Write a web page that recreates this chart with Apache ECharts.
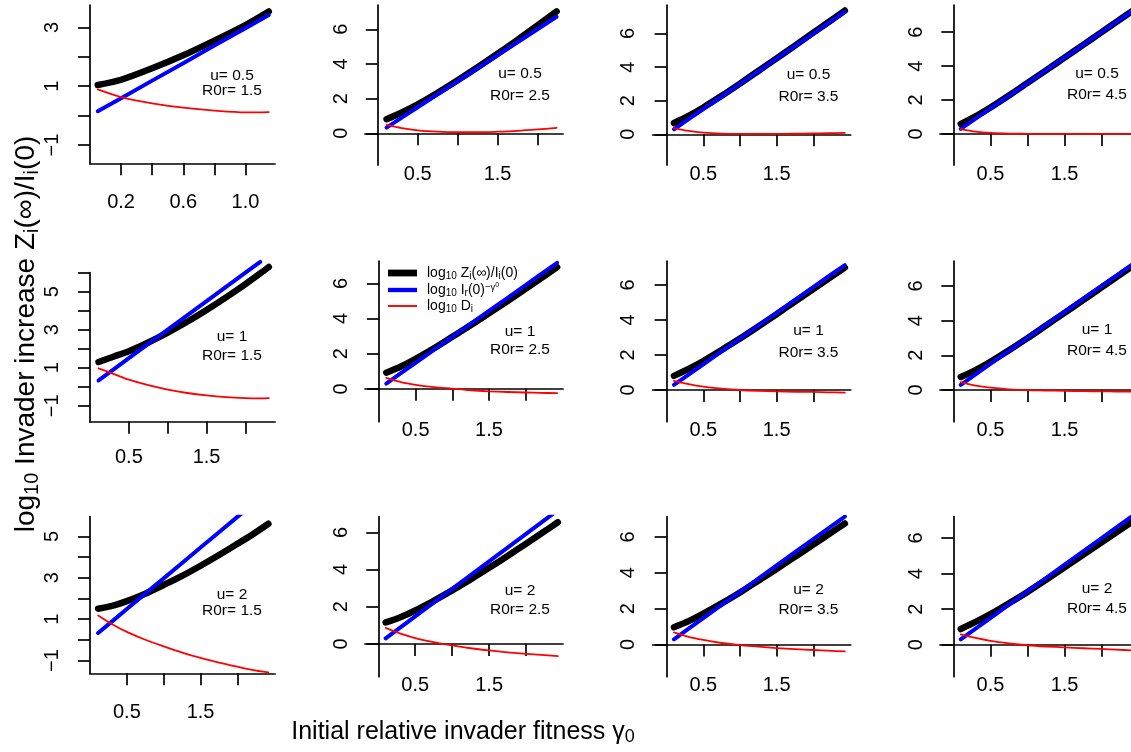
<!DOCTYPE html>
<html>
<head>
<meta charset="utf-8">
<script src="https://cdn.jsdelivr.net/npm/echarts@6/dist/echarts.min.js"></script>
<style>
  html, body { margin: 0; padding: 0; background: #fff; }
  #chart { width: 1131px; height: 752px; }
</style>
</head>
<body>
<div id="chart"></div>
<script>
// panel parameters: rows are u, columns are R0r
const uValues = [0.5, 1, 2];
const R0rValues = [1.5, 2.5, 3.5, 4.5];

// invader fitness gamma0 sampled along each curve (panels row by row)
const gammaStd = [0.1, 0.3, 0.5, 0.75, 1.0, 1.25, 1.5, 1.75, 2.0, 2.2, 2.43];
const gamma = [
  [0.05, 0.2, 0.4, 0.6, 0.8, 1.0, 1.15],
  [0.11, 0.3, 0.5, 0.75, 1.0, 1.25, 1.5, 1.75, 2.0, 2.24],
  gammaStd, gammaStd,
  [0.11, 0.3, 0.5, 0.75, 1.0, 1.25, 1.5, 1.75, 2.0, 2.19, 2.3],
  gammaStd, gammaStd, gammaStd,
  [0.11, 0.3, 0.5, 0.75, 1.0, 1.25, 1.5, 1.75, 2.0, 2.2, 2.42],
  gammaStd, gammaStd, gammaStd
];

// log10 Zi(inf)/Ii(0)  (black)
const logZ = [
  [1.04, 1.22, 1.61, 2.05, 2.55, 3.08, 3.54],
  [0.81, 1.2, 1.67, 2.34, 3.06, 3.81, 4.59, 5.39, 6.22, 7.03],
  [0.67, 1.1, 1.6, 2.29, 3.02, 3.77, 4.52, 5.28, 6.05, 6.66, 7.37],
  [0.59, 1.04, 1.56, 2.27, 3.01, 3.75, 4.5, 5.25, 6.0, 6.61, 7.3],
  [1.3, 1.58, 1.87, 2.33, 2.85, 3.42, 4.04, 4.7, 5.4, 5.96, 6.3],
  [0.92, 1.27, 1.71, 2.31, 2.96, 3.61, 4.29, 4.98, 5.69, 6.26, 6.92],
  [0.81, 1.21, 1.66, 2.29, 2.94, 3.63, 4.33, 5.05, 5.77, 6.34, 6.99],
  [0.75, 1.15, 1.63, 2.29, 2.99, 3.72, 4.45, 5.18, 5.92, 6.51, 7.19],
  [1.5, 1.64, 1.87, 2.23, 2.65, 3.09, 3.58, 4.1, 4.64, 5.08, 5.61],
  [1.16, 1.44, 1.8, 2.32, 2.88, 3.47, 4.09, 4.73, 5.39, 5.92, 6.54],
  [0.96, 1.3, 1.72, 2.29, 2.9, 3.56, 4.21, 4.89, 5.57, 6.12, 6.75],
  [0.88, 1.28, 1.72, 2.33, 2.97, 3.65, 4.35, 5.05, 5.76, 6.32, 6.97]
];

// log10 Ir(0)^-gamma0  (blue)
const logIr = [
  [0.15, 0.59, 1.19, 1.78, 2.38, 2.97, 3.42],
  [0.33, 0.9, 1.5, 2.25, 3.0, 3.75, 4.5, 5.25, 6.0, 6.72],
  [0.3, 0.9, 1.5, 2.25, 3.0, 3.75, 4.5, 5.25, 6.0, 6.6, 7.29],
  [0.3, 0.9, 1.5, 2.25, 3.0, 3.75, 4.5, 5.25, 6.0, 6.6, 7.29],
  [0.33, 0.9, 1.5, 2.25, 3.0, 3.75, 4.5, 5.25, 6.0, 6.57, null],
  [0.3, 0.89, 1.48, 2.21, 2.95, 3.69, 4.43, 5.16, 5.9, 6.49, 7.17],
  [0.29, 0.88, 1.47, 2.21, 2.94, 3.68, 4.41, 5.15, 5.88, 6.47, 7.14],
  [0.3, 0.9, 1.5, 2.25, 3.0, 3.75, 4.5, 5.25, 6.0, 6.6, 7.29],
  [0.33, 0.89, 1.49, 2.23, 2.97, 3.71, 4.46, 5.2, 5.94, 6.53, 7.19],
  [0.3, 0.89, 1.48, 2.22, 2.96, 3.7, 4.44, 5.18, 5.92, 6.51, 7.19],
  [0.29, 0.88, 1.47, 2.21, 2.94, 3.68, 4.41, 5.15, 5.88, 6.47, 7.14],
  [0.3, 0.9, 1.5, 2.25, 3.0, 3.75, 4.5, 5.25, 6.0, 6.6, 7.29]
];

// log10 Di  (red)
const logD = [
  [0.89, 0.63, 0.42, 0.27, 0.17, 0.11, 0.12],
  [0.48, 0.3, 0.17, 0.09, 0.06, 0.06, 0.09, 0.14, 0.22, 0.31],
  [0.37, 0.2, 0.1, 0.04, 0.02, 0.02, 0.02, 0.03, 0.05, 0.06, 0.08],
  [0.29, 0.14, 0.06, 0.02, 0.01, 0.0, 0.0, 0.0, 0.0, 0.01, 0.01],
  [0.97, 0.68, 0.37, 0.08, -0.15, -0.33, -0.46, -0.55, -0.6, -0.61, -0.6],
  [0.62, 0.38, 0.23, 0.1, 0.01, -0.08, -0.14, -0.18, -0.21, -0.23, -0.25],
  [0.52, 0.33, 0.19, 0.08, 0.0, -0.05, -0.08, -0.1, -0.11, -0.13, -0.15],
  [0.45, 0.25, 0.13, 0.04, -0.01, -0.03, -0.05, -0.07, -0.08, -0.09, -0.1],
  [1.17, 0.75, 0.38, 0.0, -0.32, -0.62, -0.88, -1.1, -1.3, -1.45, -1.58],
  [0.86, 0.55, 0.32, 0.1, -0.08, -0.23, -0.35, -0.45, -0.53, -0.59, -0.65],
  [0.67, 0.42, 0.25, 0.08, -0.04, -0.12, -0.2, -0.26, -0.31, -0.35, -0.39],
  [0.58, 0.38, 0.22, 0.08, -0.03, -0.1, -0.15, -0.2, -0.24, -0.28, -0.32]
];

// tick marks / labels
const xTicksNarrow = [0.2, 0.4, 0.6, 0.8, 1.0];
const xLabelsNarrow = [0.2, 0.6, 1.0];
const xTicksWide = [0.5, 1.0, 1.5, 2.0];
const xLabelsWide = [0.5, 1.5];
const yTicks = [
  [-1, 0, 1, 2, 3], [0, 2, 4, 6], [0, 2, 4, 6], [0, 2, 4, 6],
  [-1, 0, 1, 2, 3, 4, 5, 6], [0, 2, 4, 6], [0, 2, 4, 6], [0, 2, 4, 6],
  [-1, 0, 1, 2, 3, 4, 5], [0, 2, 4, 6], [0, 2, 4, 6], [0, 2, 4, 6]
];
const yLabels = [
  [-1, 1, 3], [0, 2, 4, 6], [0, 2, 4, 6], [0, 2, 4, 6],
  [-1, 1, 3, 5], [0, 2, 4, 6], [0, 2, 4, 6], [0, 2, 4, 6],
  [-1, 1, 3, 5], [0, 2, 4, 6], [0, 2, 4, 6], [0, 2, 4, 6]
];

// ---- layout (pixels / axis extents) ----
const FONT = '"Liberation Sans", Arial, Helvetica, sans-serif';
const colLeft = [90, 365, 652.7, 940];
const colWidth = [185, 198, 198, 198];
const panelTop = [5, 5, 5, 5, 272.7, 261, 261, 261, 516.7, 516.7, 516.7, 516.7];
const panelHeight = [158.3, 160, 160, 160, 149, 160.7, 160.7, 160.7, 156.6, 160, 160, 160];
const xRange = [
  [0, 1.19], [-0.16, 2.32], [-0.19, 2.51], [-0.18, 2.49],
  [0, 2.38], [-0.19, 2.51], [-0.19, 2.51], [-0.18, 2.49],
  [0, 2.51], [-0.18, 2.5], [-0.19, 2.51], [-0.18, 2.49]
];
const yRange = [
  [-1.62, 3.76], [-1.83, 7.4], [-1.83, 7.7], [-1.83, 7.6],
  [-1.84, 6], [-1.87, 7.27], [-1.81, 7.37], [-1.83, 7.44],
  [-1.62, 5.95], [-1.76, 6.84], [-1.8, 7.13], [-1.8, 7.2]
];
const xLabelMargin = [29, -1, -1, -1, 26, -1, -1, -1, 29, -1, -1, -1];
const annotX = [232, 520, 808.5, 1097];
const annotY = [[76, 91], [74, 96], [75, 96.5], [73.5, 94.5],
                [337, 355.5], [331.5, 350], [331, 353], [330, 350.5],
                [595, 611], [590.5, 610], [589.5, 609.5], [588.5, 608.5]];

const NAME_Z = 'log10 Zi(inf)/Ii(0)';
const NAME_I = 'log10 Ir(0)^-gamma0';
const NAME_D = 'log10 Di';
const legendRich = {};
legendRich[NAME_Z] = '{g|}{n|log}{s|10}{n| Z}{s|i}{n|(\u221e)/I}{s|i}{n|(0)}';
legendRich[NAME_I] = '{g|}{n|log}{s|10}{n| I}{s|r}{n|(0)}{sp|\u2212\u03b3}{spp|0}';
legendRich[NAME_D] = '{g|}{n|log}{s|10}{n| D}{s|i}';

const minusFmt = v => (v < 0 ? '\u2212' + Math.abs(v) : String(v));

const grids = [], xAxes = [], yAxes = [], series = [], graphics = [];

for (let p = 0; p < 12; p++) {
  const row = Math.floor(p / 4), col = p % 4;
  const firstCol = col === 0;
  grids.push({
    left: colLeft[col], width: colWidth[col],
    top: panelTop[p], height: panelHeight[p],
    containLabel: false, outerBoundsMode: 'none'
  });
  xAxes.push({
    type: 'value', gridIndex: p,
    min: xRange[p][0], max: xRange[p][1],
    axisLine: { show: true, onZero: !firstCol, lineStyle: { color: '#000', width: 1.7 } },
    axisTick: { show: true, length: 12, inside: false,
      customValues: p === 0 ? xTicksNarrow : xTicksWide,
      lineStyle: { color: '#000', width: 1.7 } },
    axisLabel: { show: true, customValues: p === 0 ? xLabelsNarrow : xLabelsWide,
      formatter: v => v.toFixed(1), margin: xLabelMargin[p],
      fontSize: 20, fontFamily: FONT, color: '#000' },
    splitLine: { show: false }
  });
  yAxes.push({
    type: 'value', gridIndex: p,
    min: yRange[p][0], max: yRange[p][1],
    axisLine: { show: true, onZero: true, lineStyle: { color: '#000', width: 1.7 } },
    axisTick: { show: true, length: 12, inside: false, customValues: yTicks[p],
      lineStyle: { color: '#000', width: 1.7 } },
    axisLabel: { show: true, customValues: yLabels[p], formatter: minusFmt,
      rotate: 90, margin: firstCol ? 28 : 14, fontSize: 20, fontFamily: FONT, color: '#000' },
    splitLine: { show: false }
  });

  const curves = [
    { name: NAME_Z, vals: logZ[p], color: '#000000', width: 6.5, z: 2, smooth: 0.3 },
    { name: NAME_I, vals: logIr[p], color: '#0000ff', width: 4, z: 3, smooth: false },
    { name: NAME_D, vals: logD[p], color: '#ff0000', width: 1.8, z: 4, smooth: 0.3 }
  ];
  curves.forEach(c => {
    series.push({
      type: 'line', name: c.name, xAxisIndex: p, yAxisIndex: p,
      data: gamma[p].map((g, i) => [g, c.vals[i]]),
      symbol: 'none', smooth: c.smooth,
      clip: p !== 4, z: c.z, silent: true,
      color: c.color, itemStyle: { color: c.color },
      lineStyle: { color: c.color, width: c.width, cap: 'round', join: 'round' }
    });
  });

  const tStyle = { fontSize: 15.5, fontFamily: FONT, fill: '#000', align: 'center', verticalAlign: 'middle' };
  graphics.push({ type: 'text', x: annotX[col], y: annotY[p][0],
    style: Object.assign({ text: 'u= ' + uValues[row] }, tStyle) });
  graphics.push({ type: 'text', x: annotX[col], y: annotY[p][1],
    style: Object.assign({ text: 'R0r= ' + R0rValues[col] }, tStyle) });
}

const xTitleRich = {
  n: { fontSize: 25, fontFamily: FONT, fill: '#000', lineHeight: 29 },
  s: { fontSize: 18, fontFamily: FONT, fill: '#000', verticalAlign: 'bottom', lineHeight: 21 }
};
const yTitleRich = {
  n: { fontSize: 28, fontFamily: FONT, fill: '#000', lineHeight: 32 },
  s: { fontSize: 20, fontFamily: FONT, fill: '#000', verticalAlign: 'bottom', lineHeight: 23 }
};
graphics.push({
  type: 'text', x: 26, y: 334, rotation: Math.PI / 2,
  style: { text: '{n|log}{s|10}{n| Invader increase Z}{s|i}{n|(\u221e)/I}{s|i}{n|(0)}',
    rich: yTitleRich, align: 'center', verticalAlign: 'middle' }
});
graphics.push({
  type: 'text', x: 463, y: 732,
  style: { text: '{n|Initial relative invader fitness \u03b3}{s|0}',
    rich: xTitleRich, align: 'center', verticalAlign: 'middle' }
});

const option = {
  backgroundColor: '#ffffff',
  animation: false,
  grid: grids,
  xAxis: xAxes,
  yAxis: yAxes,
  series: series,
  graphic: graphics,
  legend: {
    orient: 'vertical', left: 388, top: 266,
    itemWidth: 29, itemHeight: 12, itemGap: 1, padding: 0,
    selectedMode: false,
    itemStyle: { borderWidth: 0 },
    data: [
      { name: NAME_Z, icon: 'path://M0,0H30V7H0Z' },
      { name: NAME_I, icon: 'path://M0,0H30V4.5H0Z' },
      { name: NAME_D, icon: 'path://M0,0H30V2H0Z' }
    ],
    formatter: name => legendRich[name],
    textStyle: {
      color: '#000', fontFamily: FONT,
      rich: {
        g: { width: 5 },
        n: { fontSize: 14, fontFamily: FONT, color: '#000', lineHeight: 16 },
        s: { fontSize: 10, fontFamily: FONT, color: '#000', verticalAlign: 'bottom', lineHeight: 11 },
        sp: { fontSize: 9.5, fontFamily: FONT, color: '#000', verticalAlign: 'top', lineHeight: 10 },
        spp: { fontSize: 7, fontFamily: FONT, color: '#000', verticalAlign: 'top', lineHeight: 12 }
      }
    }
  }
};

const chart = echarts.init(document.getElementById('chart'), null, { renderer: 'canvas' });
chart.setOption(option);
</script>
</body>
</html>
